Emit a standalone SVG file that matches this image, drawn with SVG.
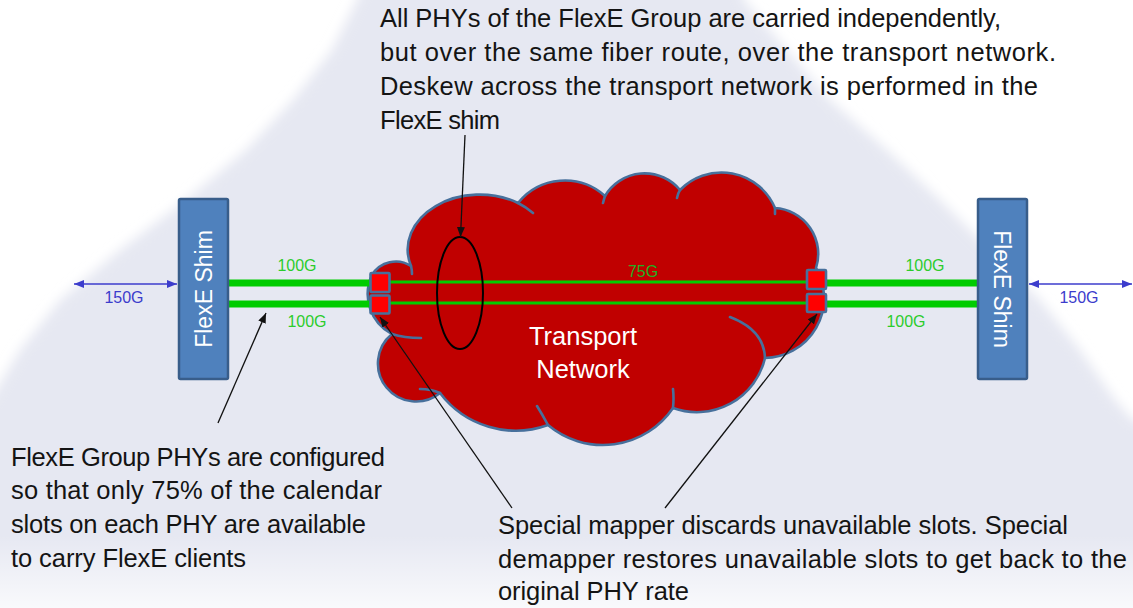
<svg xmlns="http://www.w3.org/2000/svg" width="1133" height="608" viewBox="0 0 1133 608">
  <defs>
    <style>
      .txt { font-family: "Liberation Sans", Arial, sans-serif; fill: #141414; font-size: 25.5px; }
      .grn { font-family: "Liberation Sans", Arial, sans-serif; fill: #2ccc2c; font-size: 16px; text-anchor: middle; }
      .blu { font-family: "Liberation Sans", Arial, sans-serif; fill: #3c3ccc; font-size: 16px; text-anchor: middle; }
      .shim rect { fill: #4f81bd; stroke: #385d8a; stroke-width: 2.5; }
      .shim text { font-family: "Liberation Sans", Arial, sans-serif; fill: #ffffff; font-size: 23px; text-anchor: middle; }
      .cloud { fill: #c00000; stroke: #47709c; stroke-width: 2.6; stroke-linejoin: round; }
      .seam { fill: none; stroke: #47709c; stroke-width: 2.6; stroke-linecap: round; }
      .port { fill: #ff0000; stroke: #47709c; stroke-width: 2.6; }
      .thick { stroke: #00cc00; stroke-width: 7; fill: none; }
      .thin { stroke: #00cc00; stroke-width: 3; fill: none; }
      .call { stroke: #111111; stroke-width: 1.3; fill: none; marker-end: url(#ah); }
      .rate { stroke: #3c3ccc; stroke-width: 1.6; fill: none; marker-start: url(#bh); marker-end: url(#bh); }
    </style>
    <marker id="ah" markerUnits="userSpaceOnUse" markerWidth="10" markerHeight="8" refX="10" refY="4" orient="auto">
      <path d="M0,0 L10,4 L0,8 Z" fill="#111111"/>
    </marker>
    <marker id="bh" markerUnits="userSpaceOnUse" markerWidth="10" markerHeight="8" refX="10" refY="4" orient="auto-start-reverse">
      <path d="M0,0 L10,4 L0,8 Z" fill="#3c3ccc"/>
    </marker>
    <filter id="soft" filterUnits="userSpaceOnUse" x="-60" y="-60" width="1253" height="728">
      <feGaussianBlur stdDeviation="6"/>
    </filter>
    <linearGradient id="fade" x1="0" y1="0" x2="0" y2="1">
      <stop offset="0" stop-color="#ffffff" stop-opacity="0"/>
      <stop offset="1" stop-color="#ffffff" stop-opacity="0.75"/>
    </linearGradient>
  </defs>

  <g id="background">
    <rect x="0" y="0" width="1133" height="608" fill="#ffffff"/>
    <polygon fill="#e6e8f2" filter="url(#soft)" points="370,-30 357,0 332,50 293,100 246,150 186,200 120,250 60,300 20,350 -10,400 -30,420 -30,640 1160,640 1160,430 1133,420 1115,400 1080,350 1040,300 990,250 940,200 887,150 830,100 787,50 744,0 735,-30"/>
    <rect x="0" y="535" width="1133" height="73" fill="url(#fade)"/>
  </g>

  <g id="transport-network">
    <path class="cloud" d="M 372 275 A 28 28 0 0 1 411 266 A 72 55 0 0 1 518 203 A 60 60 0 0 1 605 196 A 46 46 0 0 1 680 190 A 58 58 0 0 1 775 208 A 46 46 0 0 1 816 268 A 60 60 0 0 1 765 358 A 70 70 0 0 1 673 408 A 85 85 0 0 1 548 425 A 95 95 0 0 1 440 393 A 37 37 0 0 1 392 334 A 45 45 0 0 1 372 275 Z"/>
    <path class="seam" d="M 411 266 Q 412 270 412 274 M 518 203 Q 526 207 533 213 M 605 196 Q 604 199 603 203 M 680 190 Q 678 193 677 198 M 775 208 Q 775 211 775 214 M 765 358 Q 764 330 730 317 M 673 408 Q 674 398 673 389 M 548 425 Q 542 414 537 406 M 440 393 Q 431 389 420 389 M 392 334 Q 404 338 421 338"/>
    <text x="583" y="345" font-family="Liberation Sans, Arial, sans-serif" font-size="25.5" fill="#ffffff" text-anchor="middle">Transport</text>
    <text x="583" y="378" font-family="Liberation Sans, Arial, sans-serif" font-size="25.5" fill="#ffffff" text-anchor="middle">Network</text>
  </g>

  <g id="connectors">
    <line class="thick" x1="228" y1="283" x2="371" y2="283"/>
    <line class="thick" x1="228" y1="304" x2="371" y2="304"/>
    <line class="thick" x1="827" y1="283" x2="979" y2="283"/>
    <line class="thick" x1="827" y1="304" x2="979" y2="304"/>
    <line class="thin" x1="390" y1="282" x2="807" y2="282"/>
    <line class="thin" x1="390" y1="303" x2="807" y2="303"/>
    <line class="rate" x1="74" y1="284" x2="177" y2="284"/>
    <line class="rate" x1="1029" y1="284" x2="1132" y2="284"/>
    <ellipse cx="460" cy="293" rx="23" ry="56" fill="none" stroke="#000000" stroke-width="2"/>
    <line class="call" x1="465" y1="135" x2="460.5" y2="237"/>
    <line class="call" x1="218" y1="423" x2="266" y2="313"/>
    <line class="call" x1="512" y1="508" x2="380" y2="317"/>
    <line class="call" x1="665" y1="508" x2="817" y2="314"/>
  </g>

  <g id="ports">
    <rect class="port" x="370.5" y="273" width="19" height="19" rx="1"/>
    <rect class="port" x="370.5" y="295.5" width="19" height="18" rx="1"/>
    <rect class="port" x="807" y="270" width="19" height="19" rx="1"/>
    <rect class="port" x="807" y="294" width="19" height="18" rx="1"/>
  </g>

  <g id="flexe-shim-left" class="shim">
    <rect x="179" y="199" width="49" height="180" rx="1.5"/>
    <text transform="translate(212 289) rotate(-90)">FlexE Shim</text>
  </g>

  <g id="flexe-shim-right" class="shim">
    <rect x="978" y="199" width="49" height="180" rx="1.5"/>
    <text transform="translate(994 289) rotate(90)">FlexE Shim</text>
  </g>

  <g id="labels">
    <text class="grn" x="297" y="271">100G</text>
    <text class="grn" x="307" y="327">100G</text>
    <text class="grn" x="925" y="271">100G</text>
    <text class="grn" x="906" y="327">100G</text>
    <text class="grn" x="643" y="277" style="fill:#22b022">75G</text>
    <text class="blu" x="124" y="303">150G</text>
    <text class="blu" x="1079" y="303">150G</text>
  </g>

  <g id="note-top">
    <text class="txt" x="380" y="27" textLength="621">All PHYs of the FlexE Group are carried independently,</text>
    <text class="txt" x="380" y="61" textLength="676">but over the same fiber route, over the transport network.</text>
    <text class="txt" x="380" y="95" textLength="658">Deskew across the transport network is performed in the</text>
    <text class="txt" x="380" y="129" textLength="120">FlexE shim</text>
  </g>

  <g id="note-left">
    <text class="txt" x="11" y="466" textLength="374">FlexE Group PHYs are configured</text>
    <text class="txt" x="11" y="499" textLength="371">so that only 75% of the calendar</text>
    <text class="txt" x="11" y="533" textLength="355">slots on each PHY are available</text>
    <text class="txt" x="11" y="567" textLength="235">to carry FlexE clients</text>
  </g>

  <g id="note-right">
    <text class="txt" x="498" y="534" textLength="570">Special mapper discards unavailable slots. Special</text>
    <text class="txt" x="498" y="568" textLength="629">demapper restores unavailable slots to get back to the</text>
    <text class="txt" x="498" y="600" textLength="191">original PHY rate</text>
  </g>
</svg>
